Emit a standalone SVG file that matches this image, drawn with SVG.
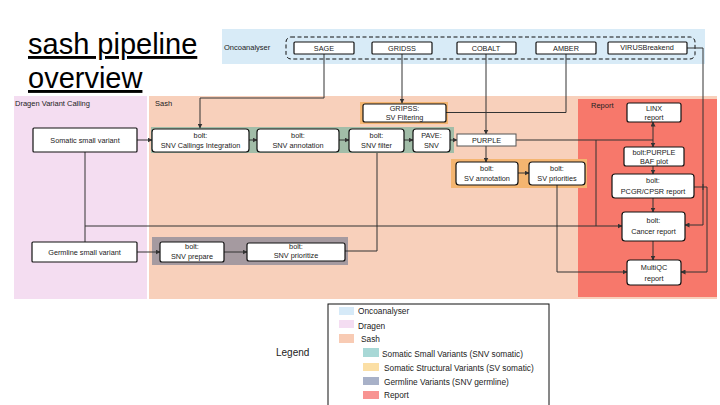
<svg xmlns="http://www.w3.org/2000/svg" width="720" height="405" viewBox="0 0 720 405">
<defs>
<marker id="ah" viewBox="0 0 10 10" refX="9" refY="5" markerWidth="5" markerHeight="5" orient="auto" markerUnits="userSpaceOnUse">
<path d="M0,0 L10,5 L0,10 z" fill="#333"/>
</marker>
<style>
text{font-family:"Liberation Sans",Arial,sans-serif;fill:#222}
.box{fill:#fff;stroke:#111;stroke-width:1.2}
.bt{font-size:7.3px;text-anchor:middle}
.lbl{font-size:7.5px}
.con{fill:none;stroke:#333;stroke-width:1}
.arr{marker-end:url(#ah)}
.leg{font-size:8.3px}
</style>
</defs>
<rect width="720" height="405" fill="#fff"/>
<!-- title -->
<text x="28" y="54" font-size="29" style="fill:#000" text-decoration="underline">sash pipeline</text>
<text x="28" y="88" font-size="29" style="fill:#000" text-decoration="underline">overview</text>
<!-- bands -->
<g id="band-oncoanalyser">
<rect x="222" y="29" width="483" height="35" fill="#D8EBF7"/>
<text class="lbl" x="224" y="50" font-size="7">Oncoanalyser</text>
<rect x="286" y="37" width="409" height="22" rx="5" fill="none" stroke="#111" stroke-dasharray="4,2.5" stroke-width="1"/>
</g>
<g id="band-dragen">
<rect x="14" y="96" width="133" height="203" fill="#F4DDF1"/>
<text class="lbl" x="15" y="106">Dragen  Variant Calling</text>
</g>
<g id="band-sash">
<rect x="149" y="96" width="568" height="203" fill="#F8D0BB"/>
<text class="lbl" x="155" y="106">Sash</text>
</g>
<g id="band-report">
<rect x="578" y="99" width="139" height="198" fill="#F7786B"/>
<text class="lbl" x="591" y="108">Report</text>
</g>
<g id="band-snv-somatic"><rect x="151" y="127" width="303" height="26" fill="#A2BDA8"/></g>
<g id="band-gripss"><rect x="360" y="102" width="88" height="22" fill="#F4B570"/></g>
<g id="band-sv"><rect x="451" y="159" width="136" height="29" fill="#F4B570"/></g>
<g id="band-germline"><rect x="152" y="237" width="196" height="28" fill="#A59AA0"/></g>

<!-- connectors -->
<g id="connectors">
<path class="con arr" d="M324,54 V98 H200 V128"/>
<path class="con arr" d="M402,54 V103"/>
<path class="con arr" d="M486,54 V134"/>
<path class="con" d="M566,54 V112.5 H486"/>
<path class="con" d="M446,112.5 H486"/>
<path class="con arr" d="M687,48 H703 V225 H685"/>
<path class="con arr" d="M694,187 H707 V272 H681"/>
<path class="con arr" d="M137,140 H152"/>
<path class="con" d="M85,152 V242"/>
<path class="con arr" d="M85,226 H622" stroke-width="2"/>
<path class="con arr" d="M137,252 H160"/>
<path class="con arr" d="M224,252 H247"/>
<path class="con" d="M345,251 H377 V226"/>
<path class="con" d="M377,153 V226"/>
<path class="con arr" d="M249,140 H257"/>
<path class="con arr" d="M339,140 H349"/>
<path class="con arr" d="M404,140 H413"/>
<path class="con arr" d="M450,140 H457"/>
<path class="con arr" d="M486,146 V162"/>
<path class="con arr" d="M518,173 H529"/>
<path class="con arr" d="M557,185 V272 H627"/>
<path class="con arr" d="M516,140 H653 V147"/>
<path class="con arr" d="M653,140 V122"/>
<path class="con" d="M596,140 V226"/>
<path class="con arr" d="M653,166 V174"/>
<path class="con arr" d="M653,198 V212"/>
<path class="con arr" d="M653,241 V260"/>
<path class="con" d="M703,184 V190" stroke-width="1"/>
</g>

<!-- oncoanalyser nodes -->
<g id="node-sage"><rect class="box" x="294" y="42" width="60" height="12" rx="1"/><text class="bt" x="324" y="50.5" font-size="6.5">SAGE</text></g>
<g id="node-gridss"><rect class="box" x="372" y="42" width="60" height="12" rx="1"/><text class="bt" x="402" y="50.5" font-size="6.5">GRIDSS</text></g>
<g id="node-cobalt"><rect class="box" x="457" y="42" width="59" height="12" rx="1"/><text class="bt" x="486" y="50.5" font-size="6.5">COBALT</text></g>
<g id="node-amber"><rect class="box" x="536" y="42" width="60" height="12" rx="1"/><text class="bt" x="566" y="50.5" font-size="6.5">AMBER</text></g>
<g id="node-virusbreakend"><rect class="box" x="608" y="42" width="79" height="12" rx="1"/><text class="bt" x="647" y="50" font-size="6.5">VIRUSBreakend</text></g>

<!-- dragen nodes -->
<g id="node-somatic"><rect class="box" x="33" y="128" width="104" height="24" rx="1"/><text class="bt" x="85" y="142.5">Somatic small variant</text></g>
<g id="node-germline"><rect class="box" x="32" y="242" width="105" height="20" rx="1"/><text class="bt" x="84.5" y="254.5">Germline small variant</text></g>

<!-- sash nodes -->
<g id="node-snv-callings"><rect class="box" x="152" y="129" width="97" height="23" rx="3"/><text class="bt" x="200.5" y="137.5">bolt:</text><text class="bt" x="200.5" y="148">SNV Callings Integration</text></g>
<g id="node-snv-annotation"><rect class="box" x="257" y="129" width="82" height="23" rx="3"/><text class="bt" x="298" y="137.5">bolt:</text><text class="bt" x="298" y="148">SNV annotation</text></g>
<g id="node-snv-filter"><rect class="box" x="349" y="129" width="55" height="23" rx="3"/><text class="bt" x="376.5" y="137.5">bolt:</text><text class="bt" x="376.5" y="148">SNV filter</text></g>
<g id="node-pave"><rect class="box" x="413" y="129" width="37" height="23" rx="3"/><text class="bt" x="431.5" y="137.5">PAVE:</text><text class="bt" x="431.5" y="148">SNV</text></g>
<g id="node-purple"><rect x="457" y="134" width="59" height="12" fill="#fff" stroke="#555" stroke-width="1"/><text class="bt" x="486.5" y="142.5">PURPLE</text></g>
<g id="node-gripss"><rect class="box" x="363" y="104" width="83" height="18" rx="2"/><text class="bt" x="404.5" y="111">GRIPSS:</text><text class="bt" x="404.5" y="119.5">SV Filtering</text></g>
<g id="node-sv-annotation"><rect class="box" x="456" y="162" width="62" height="23" rx="3"/><text class="bt" x="487" y="170.5">bolt:</text><text class="bt" x="487" y="181">SV annotation</text></g>
<g id="node-sv-priorities"><rect class="box" x="529" y="162" width="56" height="23" rx="3"/><text class="bt" x="557" y="170.5">bolt:</text><text class="bt" x="557" y="181">SV priorities</text></g>
<g id="node-snv-prepare"><rect class="box" x="160" y="242" width="64" height="20" rx="2"/><text class="bt" x="192" y="249">bolt:</text><text class="bt" x="192" y="258.5">SNV prepare</text></g>
<g id="node-snv-prioritize"><rect class="box" x="247" y="243" width="98" height="18" rx="2"/><text class="bt" x="296" y="249">bolt:</text><text class="bt" x="296" y="258">SNV prioritize</text></g>

<!-- report nodes -->
<g id="node-linx"><rect class="box" x="627" y="103" width="54" height="19" rx="2"/><text class="bt" x="654" y="110.5">LINX</text><text class="bt" x="654" y="119.5">report</text></g>
<g id="node-baf"><rect class="box" x="624" y="147" width="60" height="19" rx="2"/><text class="bt" x="654" y="154.5">bolt:PURPLE</text><text class="bt" x="654" y="163.5">BAF plot</text></g>
<g id="node-pcgr"><rect class="box" x="612" y="174" width="82" height="24" rx="3"/><text class="bt" x="653" y="183">bolt:</text><text class="bt" x="653" y="193.5">PCGR/CPSR report</text></g>
<g id="node-cancer"><rect class="box" x="622" y="212" width="63" height="29" rx="3"/><text class="bt" x="653.5" y="223">bolt:</text><text class="bt" x="653.5" y="234">Cancer report</text></g>
<g id="node-multiqc"><rect class="box" x="627" y="260" width="54" height="25" rx="3"/><text class="bt" x="654" y="269.5">MultiQC</text><text class="bt" x="654" y="280.5">report</text></g>

<!-- legend -->
<g id="legend">
<text x="276" y="356" font-size="10">Legend</text>
<rect x="328" y="304" width="221" height="110" fill="#fff" stroke="#111" stroke-width="1"/>
<rect x="339" y="307" width="15" height="8" fill="#D6EAF8"/><text class="leg" x="358" y="314">Oncoanalyser</text>
<rect x="339" y="320" width="15" height="8" fill="#F4DDF2"/><text class="leg" x="358" y="329">Dragen</text>
<rect x="339" y="334" width="15" height="9" fill="#F8CBB4"/><text class="leg" x="361" y="342">Sash</text>
<rect x="363" y="348" width="16" height="9" fill="#A8D8D6"/><text class="leg" x="382" y="357">Somatic Small Variants (SNV somatic)</text>
<rect x="363" y="363" width="16" height="8" fill="#FBDFA5"/><text class="leg" x="384" y="371">Somatic Structural Variants (SV somatic)</text>
<rect x="363" y="377" width="16" height="8" fill="#A8B1C8"/><text class="leg" x="384" y="385">Germline Variants (SNV germline)</text>
<rect x="363" y="391" width="16" height="8" fill="#F89492"/><text class="leg" x="384" y="398">Report</text>
</g>
</svg>
